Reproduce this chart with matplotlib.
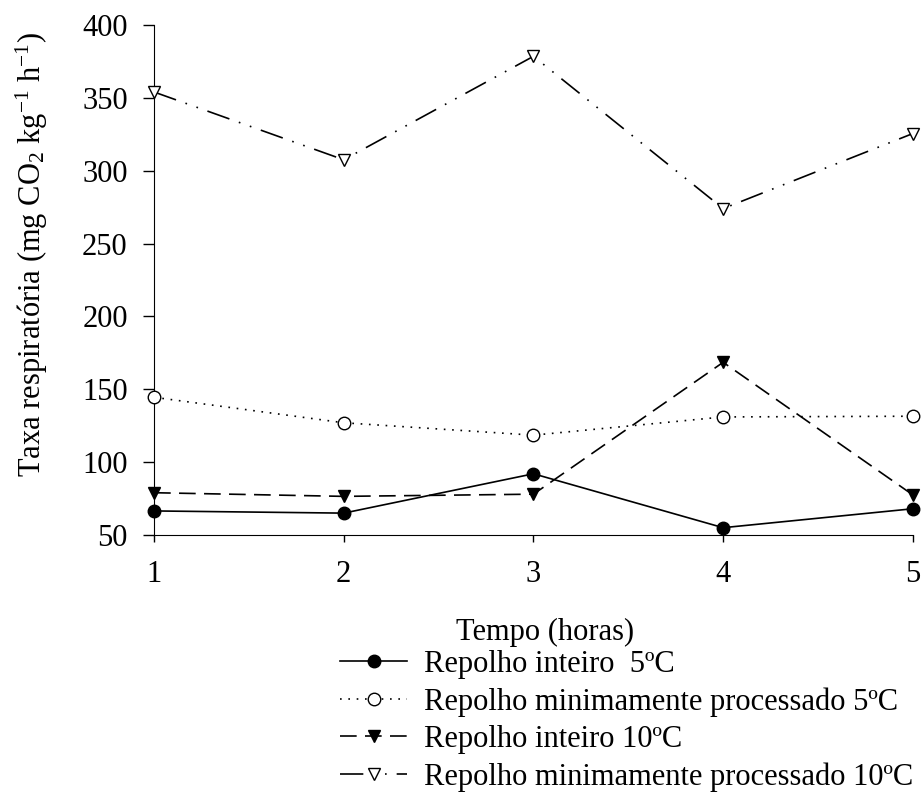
import matplotlib
matplotlib.use('Agg')
import matplotlib.pyplot as plt

plt.rcParams['font.family'] = ['Liberation Serif', 'DejaVu Serif']
plt.rcParams['mathtext.fontset'] = 'custom'
plt.rcParams['mathtext.rm'] = 'Liberation Serif'
plt.rcParams['mathtext.it'] = 'Liberation Serif:italic'
plt.rcParams['mathtext.default'] = 'regular'

# data
tempo = [1, 2, 3, 4, 5]
inteiro_5 = [66.5, 65, 92, 55, 68]
minimo_5 = [144.5, 127, 118.5, 131, 131.5]
inteiro_10 = [79, 76.5, 78, 168.5, 77.5]
minimo_10 = [354, 307.5, 378.5, 274, 325.5]

labels = ['Repolho inteiro  5ºC',
          'Repolho minimamente processado 5ºC',
          'Repolho inteiro 10ºC',
          'Repolho minimamente processado 10ºC']

fs = 22
fig = plt.figure(figsize=(9.23, 7.98), dpi=100)
ax = fig.add_axes([0.1669, 0.3296, 0.989 - 0.1669, 0.9687 - 0.3296])

ax.plot(tempo, inteiro_5, color='black', lw=1.2, ls='-', marker='o', ms=9,
        mfc='black', mec='black', clip_on=False, label=labels[0], zorder=5)
ax.plot(tempo, minimo_5, color='black', lw=1.2, ls=(0, (1, 4)), marker='o', ms=9,
        mfc='white', mec='black', mew=1, clip_on=False, label=labels[1], zorder=5)
ax.plot(tempo, inteiro_10, color='black', lw=1.2, ls=(0, (10, 5)), marker='v', ms=9,
        mfc='black', mec='black', clip_on=False, label=labels[2], zorder=5)
ax.plot(tempo, minimo_10, color='black', lw=1.2, ls=(0, (14, 6, 1, 6, 1, 6)), marker='v', ms=9,
        mfc='white', mec='black', mew=1, clip_on=False, label=labels[3], zorder=5)

ax.set_xlim(1, 5)
ax.set_ylim(50, 400)
ax.set_xticks(tempo)
ax.set_yticks(range(50, 401, 50))
ax.spines['top'].set_visible(False)
ax.spines['right'].set_visible(False)
ax.tick_params(axis='both', direction='out', width=1, labelsize=fs)
ax.tick_params(axis='x', length=5, pad=13)
ax.tick_params(axis='y', length=8, pad=11)
ax.set_ylabel('Taxa respiratória (mg CO$_2$ kg$^{-1}$ h$^{-1}$)', fontsize=fs)
ax.yaxis.set_label_coords(-0.137, 0.551)

fig.text(545 / 923, 1 - 632 / 798, 'Tempo (horas)', ha='center', va='center', fontsize=fs)

fig.legend(loc='upper left', bbox_to_anchor=(340 / 923, 1 - 650 / 798),
           frameon=False, fontsize=fs, handlelength=2.2, handletextpad=0.55,
           labelspacing=0.27, borderpad=0, borderaxespad=0)

fig.savefig('out.png', dpi=100)
